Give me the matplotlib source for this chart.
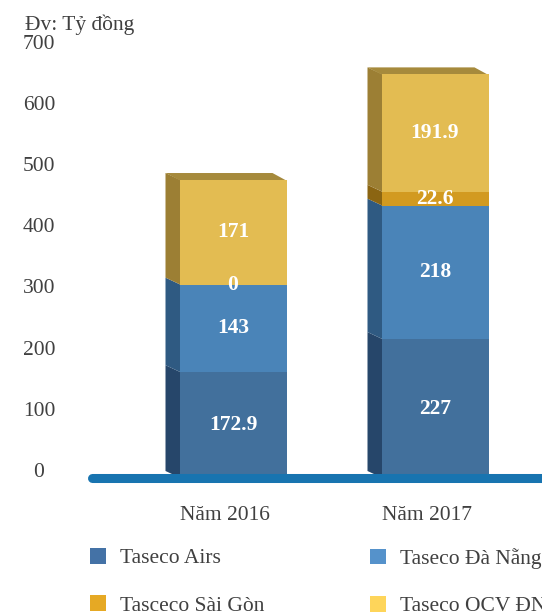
import matplotlib
matplotlib.use("Agg")
import matplotlib.pyplot as plt
from matplotlib.patches import Polygon, Patch
from matplotlib.transforms import ScaledTranslation

# ---- data ----
categories = ["Năm 2016", "Năm 2017"]
series_names = ["Taseco Airs", "Taseco Đà Nẵng", "Tasceco Sài Gòn", "Taseco OCV ĐN"]
airs = [172.9, 227]
danang = [143, 218]
saigon = [0, 22.6]
ocv = [171, 191.9]
labels_airs = ["172.9", "227"]
labels_danang = ["143", "218"]
labels_saigon = ["0", "22.6"]
labels_ocv = ["171", "191.9"]
yticks = [0, 100, 200, 300, 400, 500, 600, 700]
unit_label = "Đv: Tỷ đồng"

# ---- styles ----
front_cols = ["#42709c", "#4a84b8", "#d29a20", "#e3bc52"]
side_cols = ["#26466a", "#2f5a82", "#8b6512", "#9c7f34"]
top_col = "#a68a3c"
legend_cols = ["#4472a6", "#5592cb", "#e6a924", "#fed55a"]
text_col = "#404040"
FONT = "Liberation Serif"
FS = 15.5

W, H, DPI = 542, 615, 100
fig = plt.figure(figsize=(W / DPI, H / DPI), dpi=DPI)
ax = fig.add_axes([0, 0, 1, 1])

# pixel mapping helpers (layout only)
px_c0, px_per_c = 225.0, 202.0
px_v0, px_per_v = 478.0, 0.612
ax.set_xlim(-px_c0 / px_per_c, (W - px_c0) / px_per_c)
ax.set_ylim((px_v0 - H) / px_per_v, px_v0 / px_per_v)

front_w = 107 / px_per_c
front_off = 8 / px_per_c
dx = -14 / px_per_c
dy = 7 / px_per_v
ov = 1 / px_per_c  # tiny overlap to avoid antialias seams

series = [airs, danang, saigon, ocv]
series_labels = [labels_airs, labels_danang, labels_saigon, labels_ocv]
xs = list(range(len(categories)))
bottoms = [0.0] * len(categories)
for si, vals in enumerate(series):
    fx = [x + front_off for x in xs]
    ax.bar(fx, vals, width=front_w, bottom=bottoms, color=front_cols[si],
           edgecolor="none", zorder=3)
    for ci, x in enumerate(fx):
        b = bottoms[ci]
        t = b + vals[ci]
        x0 = x - front_w / 2
        x1 = x + front_w / 2
        if vals[ci] > 0:
            side = Polygon([(x0 + ov, b), (x0 + ov, t), (x0 + dx, t + dy), (x0 + dx, b + dy)],
                           closed=True, facecolor=side_cols[si], edgecolor="none", zorder=2)
            ax.add_patch(side)
        if si == len(series) - 1:
            top = Polygon([(x0 + ov, t - 1), (x1, t - 1), (x1 + dx, t + dy), (x0 + dx, t + dy)],
                          closed=True, facecolor=top_col, edgecolor="none", zorder=2)
            ax.add_patch(top)
        ax.text(x, b + vals[ci] / 2, series_labels[si][ci], ha="center", va="center",
                color="white", fontsize=FS, fontweight="bold", family=FONT, zorder=5)
    bottoms = [bottoms[i] + vals[i] for i in range(len(vals))]

# floor line
ax.plot([-133 / px_per_c, (W + 40 - px_c0) / px_per_c], [0, 0], color="#1874b0",
        lw=6.5, solid_capstyle="round", zorder=4)

# axes styling
for s in ax.spines.values():
    s.set_visible(False)
ax.spines["bottom"].set_position(("data", 0))
ax.set_xticks(xs)
ax.set_xticklabels(categories, family=FONT, fontsize=FS, color=text_col)
ax.tick_params(axis="x", length=0, pad=20)
ax.set_yticks(yticks)
ax.set_yticklabels([str(v) for v in yticks], family=FONT, fontsize=FS, color=text_col)
ax.tick_params(axis="y", length=0, pad=0)
off = ScaledTranslation(39 / DPI, 8 / DPI, fig.dpi_scale_trans)
for lab in ax.get_yticklabels():
    lab.set_ha("center")
    lab.set_transform(lab.get_transform() + off)

fig.text(25 / W, 1 - 25 / H, unit_label, family=FONT, fontsize=FS, color=text_col,
         ha="left", va="center")

# legend (two columns)
handles = [Patch(facecolor=c, edgecolor="none") for c in legend_cols]
common = dict(frameon=False, prop={"family": FONT, "size": FS}, handlelength=0.75,
              handleheight=0.75, handletextpad=0.65, labelspacing=1.25, borderpad=0,
              borderaxespad=0, loc="upper left", bbox_transform=fig.transFigure)
leg1 = fig.legend([handles[0], handles[2]], [series_names[0], series_names[2]],
                  bbox_to_anchor=(90 / W, 1 - 548 / H), **common)
for t in leg1.get_texts():
    t.set_color(text_col)
leg2 = fig.legend([handles[1], handles[3]], [series_names[1], series_names[3]],
                  bbox_to_anchor=(370 / W, 1 - 548 / H), **common)
for t in leg2.get_texts():
    t.set_color(text_col)

fig.savefig("out.png", dpi=DPI)
